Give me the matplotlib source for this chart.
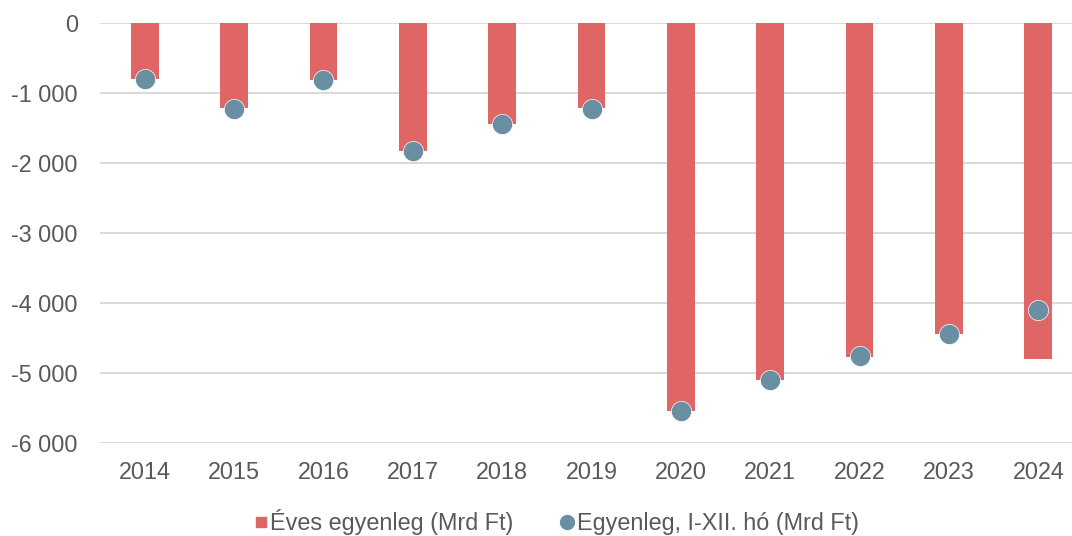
import matplotlib
matplotlib.use('Agg')
import matplotlib.pyplot as plt
from matplotlib.lines import Line2D
from matplotlib.ticker import FuncFormatter

years = ['2014', '2015', '2016', '2017', '2018', '2019', '2020', '2021', '2022', '2023', '2024']
eves = [-805, -1222, -822, -1832, -1450, -1222, -5540, -5100, -4762, -4436, -4800]
egyenleg = [-808, -1227, -822, -1830, -1445, -1227, -5535, -5100, -4760, -4445, -4098]

bar_color = '#E06666'
dot_color = '#6A8FA3'
txt = '#595959'

plt.rcParams['font.family'] = ['Liberation Sans', 'DejaVu Sans']

fig = plt.figure(figsize=(10.72, 5.36), dpi=100)
ax = fig.add_axes([100 / 1072, 1 - 443.3 / 536, 983 / 1072, (443.3 - 22.7) / 536])

x = range(len(years))
ax.bar(x, eves, width=0.31, color=bar_color, zorder=2)
ax.plot(x, egyenleg, 'o', color=dot_color, markersize=14.5,
        markeredgecolor='white', markeredgewidth=0.5, zorder=3)

ax.set_xlim(-0.5, len(years) - 0.5)
ax.set_ylim(-6000, 0)
ax.set_yticks(range(-6000, 1, 1000))
ax.yaxis.set_major_formatter(FuncFormatter(lambda v, p: f'{int(v):,}'.replace(',', ' ')))
ax.set_xticks(list(x))
ax.set_xticklabels(years)
ax.grid(axis='y', color='#D9D9D9', linewidth=1.4, zorder=0)
ax.set_axisbelow(True)
for s in ax.spines.values():
    s.set_visible(False)
ax.tick_params(axis='both', length=0, labelsize=16.8, colors=txt)
ax.tick_params(axis='x', pad=13)
ax.tick_params(axis='y', pad=16)

handles = [
    Line2D([], [], marker='s', linestyle='none', color=bar_color, markersize=7.5),
    Line2D([], [], marker='o', linestyle='none', color=dot_color, markersize=10),
]
fig.legend(handles, ['Éves egyenleg (Mrd Ft)', 'Egyenleg, I-XII. hó (Mrd Ft)'],
           loc='lower center', bbox_to_anchor=(0.518, -0.038), ncol=2, frameon=False,
           fontsize=16.8, labelcolor=txt, handletextpad=0.0, columnspacing=1.9,
           handlelength=0.8)

fig.savefig('out.png', dpi=100)
